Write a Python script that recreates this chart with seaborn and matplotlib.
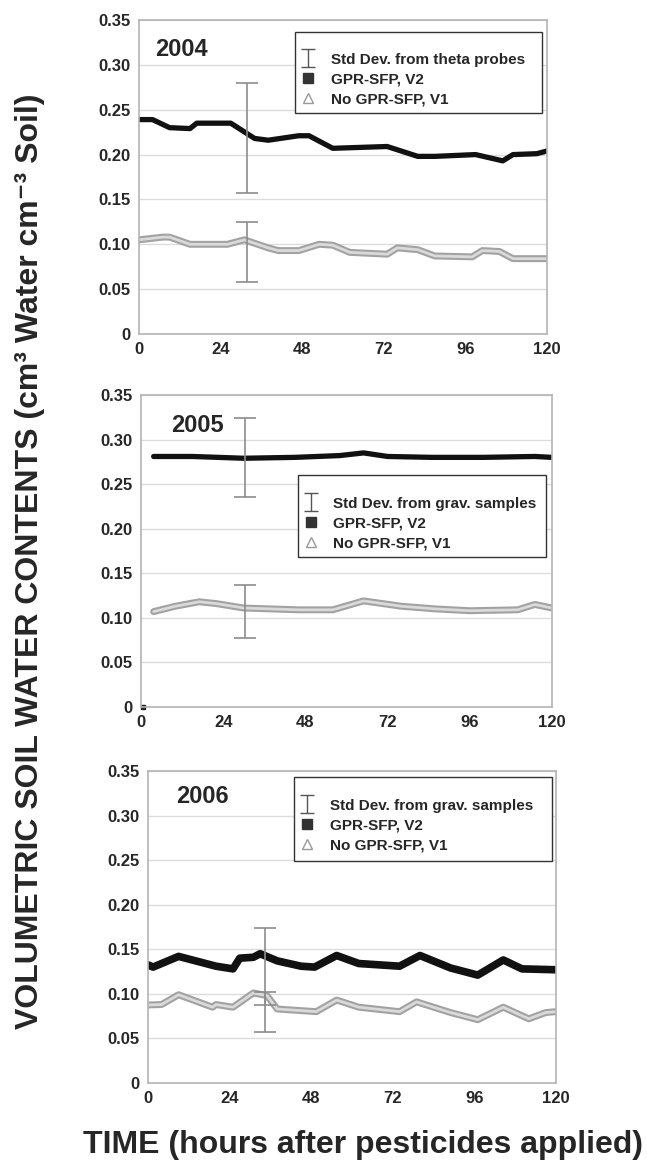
import matplotlib
matplotlib.use("Agg")
import matplotlib.pyplot as plt
from matplotlib.path import Path
from matplotlib.patches import Rectangle
import seaborn as sns

# ---- data (hours, cm3/cm3) ----
HOURS = [0, 24, 48, 72, 96, 120]
Y_TICKS = [0, 0.05, 0.10, 0.15, 0.20, 0.25, 0.30, 0.35]

# 2004
v2_2004_x = [0, 4, 9, 15, 17, 27, 34, 38, 47, 50, 57, 73, 82, 87, 99, 107, 110, 117, 120]
v2_2004_y = [0.239, 0.239, 0.230, 0.229, 0.235, 0.235, 0.218, 0.216, 0.221, 0.221,
             0.207, 0.209, 0.198, 0.198, 0.200, 0.193, 0.200, 0.201, 0.204]
v1_2004_x = [0, 7, 9, 15, 26, 31, 38, 41, 47, 53, 57, 62, 73, 76, 82, 87, 98, 101, 106, 110, 120]
v1_2004_y = [0.105, 0.108, 0.108, 0.100, 0.100, 0.105, 0.096, 0.093, 0.093, 0.100, 0.099,
             0.091, 0.089, 0.096, 0.094, 0.087, 0.086, 0.093, 0.092, 0.084, 0.084]
sd_2004_x = [31.7, 31.7]
sd_2004_y = [0.2185, 0.0915]
sd_2004_e = [0.0615, 0.0335]

# 2005
v2_2005_x = [3.7, 15, 30, 45, 58, 65, 72, 85, 100, 115, 120]
v2_2005_y = [0.281, 0.281, 0.279, 0.280, 0.282, 0.285, 0.281, 0.280, 0.280, 0.281, 0.280]
v2_2005_stray_x = [0.5]
v2_2005_stray_y = [0.0]
v1_2005_x = [3.7, 10, 17, 22, 30, 46, 56, 65, 76, 86, 96, 110, 115, 120]
v1_2005_y = [0.107, 0.113, 0.118, 0.116, 0.111, 0.109, 0.109, 0.119, 0.113, 0.110,
             0.108, 0.109, 0.115, 0.111]
sd_2005_x = [30.5, 30.5]
sd_2005_y = [0.280, 0.107]
sd_2005_e = [0.044, 0.030]

# 2006
v2_2006_x = [0, 1.5, 9, 15, 20, 25, 27, 31, 33, 38, 45, 49, 55.5, 62, 74, 80, 89, 97,
             104.5, 110, 120]
v2_2006_y = [0.1325, 0.130, 0.142, 0.136, 0.131, 0.128, 0.140, 0.141, 0.145, 0.137, 0.131,
             0.130, 0.143, 0.134, 0.131, 0.143, 0.129, 0.121, 0.138, 0.128, 0.127]
v1_2006_x = [0, 4, 9, 14, 19, 20, 25, 31, 35, 38, 49.5, 55.5, 62, 74, 79, 89, 97, 104.5,
             112, 117, 120]
v1_2006_y = [0.0875, 0.088, 0.099, 0.092, 0.085, 0.088, 0.085, 0.101, 0.098, 0.083, 0.080,
             0.093, 0.085, 0.080, 0.091, 0.079, 0.071, 0.085, 0.072, 0.079, 0.080]
sd_2006_x = [34.3, 34.3]
sd_2006_y = [0.1305, 0.0795]
sd_2006_e = [0.0435, 0.0225]

sns.set_style("white")
plt.rcParams['font.family'] = ['Liberation Sans', 'DejaVu Sans']

# I-shaped marker for the std-dev legend entry
ibeam = Path([(-0.75, 1), (0.75, 1), (0, 1), (0, -1), (-0.75, -1), (0.75, -1)],
             [Path.MOVETO, Path.LINETO, Path.MOVETO, Path.LINETO, Path.MOVETO, Path.LINETO])

fig = plt.figure(figsize=(6.47, 11.63), dpi=100)

panels = [
    dict(rect=[0.2148, 0.7128, 0.6306, 0.2700], year='2004', yx=(12.6, 0.317),
         v2=(v2_2004_x, v2_2004_y), v1=(v1_2004_x, v1_2004_y),
         sd=(sd_2004_x, sd_2004_y, sd_2004_e), lw2=3.8,
         sdlabel='Std Dev. from theta probes',
         box=(0.382, 0.704, 0.606, 0.258), leg=(0.395, 0.896)),
    dict(rect=[0.2179, 0.3921, 0.6352, 0.2683], year='2005', yx=(16.4, 0.316),
         v2=(v2_2005_x, v2_2005_y), v1=(v1_2005_x, v1_2005_y),
         sd=(sd_2005_x, sd_2005_y, sd_2005_e), lw2=3.8,
         sdlabel='Std Dev. from grav. samples',
         box=(0.382, 0.481, 0.603, 0.263), leg=(0.394, 0.674)),
    dict(rect=[0.2287, 0.0688, 0.6306, 0.2683], year='2006', yx=(15.9, 0.321),
         v2=(v2_2006_x, v2_2006_y), v1=(v1_2006_x, v1_2006_y),
         sd=(sd_2006_x, sd_2006_y, sd_2006_e), lw2=5.5,
         sdlabel='Std Dev. from grav. samples',
         box=(0.358, 0.712, 0.632, 0.269), leg=(0.372, 0.911)),
]

for p in panels:
    ax = fig.add_axes(p['rect'])
    # grey hollow-triangle band for V1
    sns.lineplot(x=p['v1'][0], y=p['v1'][1], ax=ax, color='#a2a2a2', lw=5, sort=False)
    sns.lineplot(x=p['v1'][0], y=p['v1'][1], ax=ax, color='#dadada', lw=2, sort=False)
    sns.lineplot(x=p['v2'][0], y=p['v2'][1], ax=ax, color='#111111', lw=p['lw2'], sort=False)
    if p['year'] == '2005':
        ax.plot(v2_2005_stray_x, v2_2005_stray_y, 's', color='#222222', ms=3, clip_on=False)
    sx, sy, se = p['sd']
    ax.errorbar(sx, sy, yerr=se, fmt='none', ecolor='#8c8c8c', elinewidth=1.2,
                capsize=8, capthick=1.2, zorder=5)

    ax.set_xlim(0, 120)
    ax.set_ylim(0, 0.35)
    ax.set_xticks(HOURS)
    ax.set_yticks(Y_TICKS)
    ax.set_yticklabels(['0' if t == 0 else f'{t:.2f}' for t in Y_TICKS])
    ax.tick_params(length=0, labelsize=12, pad=6)
    for lab in ax.get_xticklabels() + ax.get_yticklabels():
        lab.set_fontweight('bold')
    ax.grid(axis='y', color='#dcdcdc', lw=1)
    ax.set_axisbelow(True)
    for s in ax.spines.values():
        s.set_color('#b4b4b4')
        s.set_linewidth(1.2)
    ax.set_xlabel('')
    ax.set_ylabel('')

    ax.text(p['yx'][0], p['yx'][1], p['year'], fontsize=17, fontweight='bold',
            ha='center', va='center')

    bx, by, bw, bh = p['box']
    ax.add_patch(Rectangle((bx, by), bw, bh, transform=ax.transAxes, fill=True,
                           facecolor='white', edgecolor='#333333', lw=1.0, zorder=6))
    h_sd = plt.Line2D([], [], ls='none', marker=ibeam, mfc='none', mec='#555555',
                      mew=1.0, ms=13)
    h_sq = plt.Line2D([], [], ls='none', marker='s', color='#333333', ms=6.5)
    h_tri = plt.Line2D([], [], ls='none', marker='^', mfc='white', mec='#999999', ms=6.5)
    leg = ax.legend([h_sd, h_sq, h_tri], [p['sdlabel'], 'GPR-SFP, V2', 'No GPR-SFP, V1'],
                    loc='upper left', bbox_to_anchor=p['leg'], frameon=False,
                    prop={'weight': 'bold', 'size': 11}, handlelength=1.0,
                    handletextpad=1.0, labelspacing=0.38, borderpad=0, borderaxespad=0)
    leg.set_zorder(7)

lab_font = dict(fontweight='bold', fontsize=23)

fig.text(30 / 647, 1 - 561 / 1163,
         'VOLUMETRIC SOIL WATER CONTENTS (cm\u00b3 Water cm\u207b\u00b3 Soil)',
         rotation=90, ha='center', va='center', **lab_font)
fig.text(363 / 647, 1 - 1145 / 1163, 'TIME (hours after pesticides applied)',
         ha='center', va='center', **lab_font)

fig.savefig('out.png', dpi=100)
